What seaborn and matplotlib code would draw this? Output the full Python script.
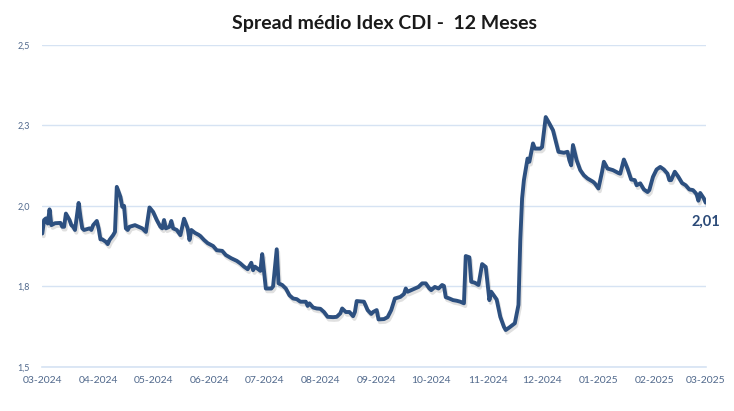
import matplotlib
matplotlib.use("Agg")
import matplotlib.pyplot as plt
import matplotlib.dates as mdates
import matplotlib.patheffects as pe
import numpy as np
import pandas as pd
import seaborn as sns

# ---- data ----
start_date = "2024-03-01"
day_offsets = [0, 1, 2, 3, 4, 5, 7, 10, 11, 12, 13, 15, 16, 17, 18, 20, 21, 22, 23, 26,
               27, 28, 30, 31, 32, 33, 35, 36, 37, 39, 40, 41, 43, 44, 45, 46, 47, 48, 51, 53,
               55, 57, 59, 61, 63, 65, 66, 67, 68, 70, 71, 72, 74, 76, 77, 78, 80, 81, 82, 84,
               86, 87, 89, 91, 94, 96, 99, 101, 104, 107, 109, 111, 113, 115, 116, 117, 120, 121, 122, 123,
               126, 127, 129, 130, 132, 134, 136, 138, 140, 142, 145, 146, 147, 149, 151, 153, 155, 157, 160, 162,
               164, 165, 167, 169, 171, 172, 173, 177, 178, 179, 181, 182, 184, 185, 188, 190, 192, 194, 197, 199,
               200, 201, 203, 207, 209, 211, 213, 214, 216, 218, 220, 221, 222, 224, 226, 228, 230, 232, 233, 235,
               236, 238, 240, 242, 244, 245, 246, 247, 249, 250, 252, 254, 255, 257, 260, 262, 263, 264, 265, 267,
               268, 270, 271, 274, 275, 277, 279, 281, 284, 287, 289, 290, 291, 292, 294, 296, 298, 300, 303, 304,
               306, 308, 309, 311, 314, 317, 318, 320, 322, 324, 326, 327, 329, 331, 333, 334, 336, 338, 340, 342,
               344, 345, 346, 348, 350, 352, 354, 356, 358, 359, 360, 361, 362, 364, 365]
spread = [1.914, 1.956, 1.961, 1.945, 1.989, 1.940, 1.946, 1.947, 1.935, 1.935, 1.976, 1.956, 1.940, 1.935, 1.925, 2.009, 1.966, 1.930, 1.925, 1.930,
          1.925, 1.940, 1.953, 1.930, 1.896, 1.896, 1.888, 1.881, 1.894, 1.909, 1.919, 2.059, 2.028, 1.997, 2.000, 1.930, 1.925, 1.935, 1.940, 1.935,
          1.930, 1.919, 1.995, 1.981, 1.956, 1.935, 1.930, 1.956, 1.930, 1.935, 1.953, 1.930, 1.925, 1.909, 1.935, 1.960, 1.930, 1.894, 1.925, 1.916,
          1.910, 1.906, 1.894, 1.884, 1.875, 1.862, 1.860, 1.847, 1.837, 1.829, 1.821, 1.811, 1.803, 1.823, 1.800, 1.811, 1.798, 1.850, 1.795, 1.743,
          1.743, 1.750, 1.865, 1.759, 1.754, 1.743, 1.722, 1.712, 1.710, 1.702, 1.702, 1.689, 1.697, 1.684, 1.681, 1.680, 1.670, 1.655, 1.654, 1.655,
          1.666, 1.681, 1.670, 1.670, 1.657, 1.670, 1.704, 1.702, 1.689, 1.676, 1.664, 1.670, 1.676, 1.647, 1.648, 1.654, 1.676, 1.712, 1.717, 1.726,
          1.743, 1.733, 1.738, 1.748, 1.759, 1.759, 1.743, 1.738, 1.748, 1.743, 1.754, 1.751, 1.716, 1.712, 1.707, 1.705, 1.702, 1.697, 1.844, 1.840,
          1.764, 1.761, 1.754, 1.819, 1.810, 1.759, 1.707, 1.733, 1.717, 1.709, 1.655, 1.624, 1.614, 1.622, 1.635, 1.692, 1.894, 2.023, 2.080, 2.147,
          2.137, 2.194, 2.178, 2.178, 2.183, 2.276, 2.256, 2.235, 2.168, 2.165, 2.168, 2.142, 2.126, 2.189, 2.142, 2.111, 2.095, 2.085, 2.075, 2.070,
          2.054, 2.106, 2.137, 2.116, 2.111, 2.102, 2.100, 2.144, 2.116, 2.082, 2.080, 2.064, 2.070, 2.051, 2.043, 2.049, 2.090, 2.113, 2.121, 2.113,
          2.100, 2.080, 2.080, 2.106, 2.090, 2.071, 2.064, 2.051, 2.049, 2.043, 2.036, 2.016, 2.040, 2.023, 2.010]
y_ticks = [1.5, 1.75, 2.0, 2.25, 2.5]
y_tick_labels = ["1,5", "1,8", "2,0", "2,3", "2,5"]
month_ticks = pd.date_range("2024-03-01", "2025-03-01", freq="MS")
title = "Spread médio Idex CDI -  12 Meses"
last_label = "2,01"

df = pd.DataFrame({
    "data": pd.Timestamp(start_date) + pd.to_timedelta(day_offsets, unit="D"),
    "spread": spread,
})

# ---- style ----
sns.set_style("white")
plt.rcParams["font.family"] = ["Lato", "DejaVu Sans"]

line_color = "#2d5080"
grid_color = "#d6e3f3"
tick_color = "#51698c"

fig = plt.figure(figsize=(7.34, 4.11), dpi=100)
ax = fig.add_axes([0.0576, 0.1078, 0.9038, 0.7827])

sns.lineplot(data=df, x="data", y="spread", ax=ax, color=line_color, linewidth=2.8,
             path_effects=[pe.SimpleLineShadow(offset=(1, -2), alpha=0.18, shadow_color="#555555"),
                           pe.Normal()])

ax.set_ylim(1.5, 2.5)
ax.set_xlim(pd.Timestamp("2024-03-01"), pd.Timestamp("2025-03-01"))
ax.set_yticks(y_ticks)
ax.set_yticklabels(y_tick_labels)
ax.set_xticks(month_ticks)
ax.xaxis.set_major_formatter(mdates.DateFormatter("%m-%Y"))

ax.grid(axis="y", color=grid_color, linewidth=1)
ax.set_axisbelow(True)
for s in ["top", "right", "left"]:
    ax.spines[s].set_visible(False)
ax.spines["bottom"].set_color(grid_color)
ax.spines["bottom"].set_linewidth(1.2)

ax.tick_params(axis="x", colors=tick_color, labelsize=7.5, length=3, width=1, direction="out", pad=3.5)
ax.tick_params(axis="x", which="major", color=grid_color)
ax.tick_params(axis="y", colors=tick_color, labelsize=6.5, length=0, pad=9)
for lab in ax.get_xticklabels():
    lab.set_color(tick_color)
ax.set_xlabel("")
ax.set_ylabel("")

fig.text(0.5245, 0.943, title, ha="center", va="center", fontsize=14, fontweight="bold", color="#1a1a1a")

ax.annotate(last_label, xy=(df["data"].iloc[-1], df["spread"].iloc[-1]),
            xytext=(0, -19), textcoords="offset pixels", ha="center", va="center",
            fontsize=10.5, fontweight="bold", color="#2b4a78")

fig.savefig("out.png", dpi=100)
